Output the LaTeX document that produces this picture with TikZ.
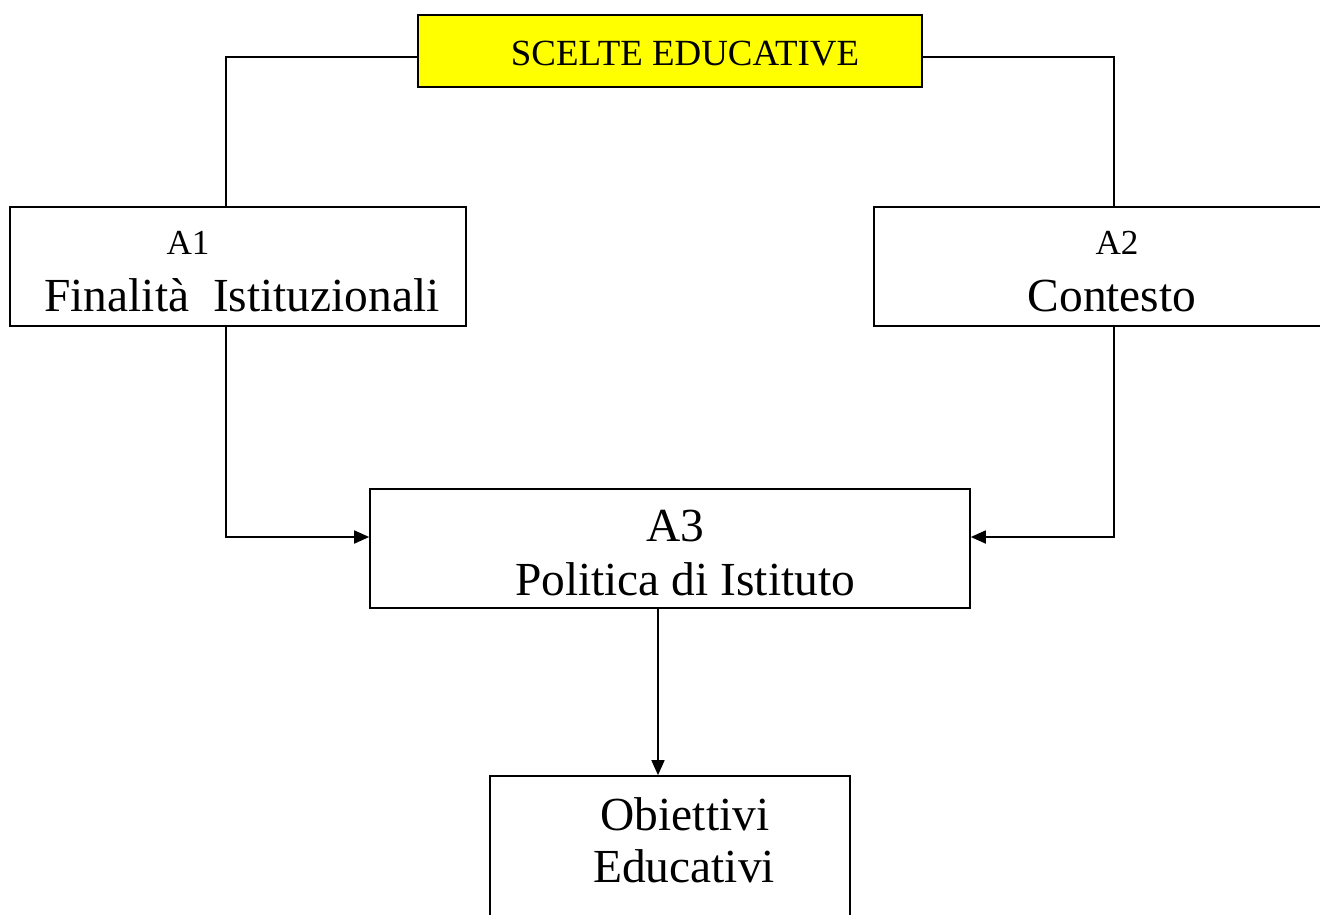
\documentclass[tikz,border=0pt]{standalone}
\usepackage{fontspec}
\setmainfont{Liberation Serif}
\usetikzlibrary{arrows.meta}
\definecolor{sceltefill}{RGB}{255,255,0}
\tikzset{
  box/.style={draw, line width=1pt, inner sep=0pt},
  conn/.style={line width=1pt},
  arr/.style={conn, -{Triangle[length=0.3cm, width=0.26cm]}},
  lab/.style={font=\fontsize{20}{24}\selectfont, inner sep=0pt, anchor=base},
  mid/.style={font=\fontsize{21}{25}\selectfont, inner sep=0pt, anchor=base},
  big/.style={font=\fontsize{27}{32}\selectfont, inner sep=0pt, anchor=base},
}
\begin{document}
\begin{tikzpicture}[x=0.02cm, y=-0.02cm]
\useasboundingbox (0,0) rectangle (1320,914);
\clip (0,0) rectangle (1320,914);

% boxes
\node[box, fill=sceltefill, minimum width=10.08cm, minimum height=1.44cm] (scelte) at (670,51) {};
\node[box, minimum width=9.12cm, minimum height=2.38cm] (fin) at (238,266.5) {};
\node[box, minimum width=9.12cm, minimum height=2.38cm] (cont) at (1102,266.5) {};
\node[box, minimum width=12cm, minimum height=2.38cm] (pol) at (670,548.5) {};
\node[box, minimum width=7.2cm, minimum height=3.2cm] (obi) at (670,856) {};

% texts
\node[mid] (sceltelab) at (685,65) {SCELTE EDUCATIVE};
\node[lab] (finnum) at (188,254) {A1};
\node[big] (finlab) at (242,311) {Finalità\ \ Istituzionali};
\node[lab] (contnum) at (1117,254) {A2};
\node[big] (contlab) at (1112,311) {Contesto};
\node[big] (polnum) at (675,541) {A3};
\node[big] (pollab) at (685,595) {Politica di Istituto};
\node[big] (obilab) at (685,830) {Obiettivi};
\node[big] (obilabb) at (684,882) {Educativi};

% connectors
\coordinate (jl) at (226,57);
\coordinate (jr) at (1114,57);
\coordinate (al) at (226,537);
\coordinate (ar) at (1114,537);
\coordinate (ad) at (658,0);
\draw[conn] (scelte.west |- jl) -- (jl) -- (jl |- fin.north);
\draw[conn] (scelte.east |- jr) -- (jr) -- (jr |- cont.north);
\draw[arr] (al |- fin.south) -- (al) -- (pol.west |- al);
\draw[arr] (ar |- cont.south) -- (ar) -- (pol.east |- ar);
\draw[arr] (ad |- pol.south) -- (ad |- obi.north);
\end{tikzpicture}
\end{document}
